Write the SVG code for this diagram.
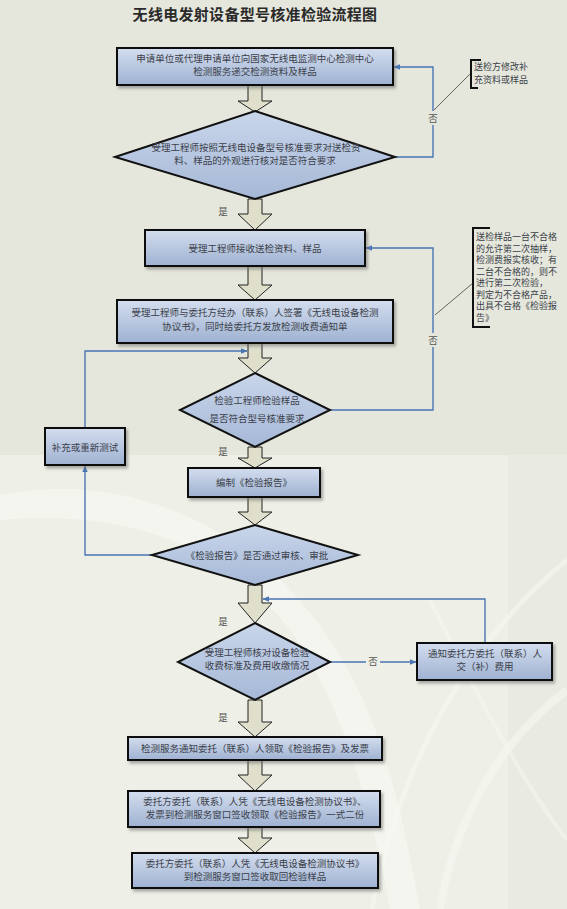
<svg xmlns="http://www.w3.org/2000/svg" width="567" height="909" viewBox="0 0 567 909">
<defs>
<linearGradient id="gBox" x1="0" y1="0" x2="0" y2="1">
<stop offset="0" stop-color="#d3ddee"/>
<stop offset="1" stop-color="#9fb2d2"/>
</linearGradient>
<linearGradient id="gDia" x1="0" y1="0" x2="0" y2="1">
<stop offset="0" stop-color="#c9d6eb"/>
<stop offset="1" stop-color="#a6b8d7"/>
</linearGradient>
<filter id="sh" x="-10%" y="-10%" width="130%" height="140%">
<feDropShadow dx="2" dy="2.5" stdDeviation="1.5" flood-color="#6b6b6b" flood-opacity="0.55"/>
</filter>
<marker id="ah" viewBox="0 0 10 10" refX="9" refY="5" markerWidth="7" markerHeight="7" orient="auto" markerUnits="userSpaceOnUse">
<path d="M0,1 L10,5 L0,9 Z" fill="#4a76b5"/>
</marker>
<style>
.box{fill:url(#gBox);stroke:#111;stroke-width:2;filter:url(#sh)}
.dia{fill:url(#gDia);stroke:#111;stroke-width:2}
.blk{fill:#dfdfcb;stroke:#222;stroke-width:1}
.con-a{fill:none;stroke:#4a76b5;stroke-width:1.4;marker-end:url(#ah)}
.t{font-family:"Noto Sans CJK SC","Noto Sans CJK JP",sans-serif;font-size:9.5px;fill:#3b3f4a;text-anchor:middle}
.lab{font-family:"Noto Sans CJK SC","Noto Sans CJK JP",sans-serif;font-size:9.5px;fill:#555;text-anchor:middle}
.note{font-family:"Noto Sans CJK SC","Noto Sans CJK JP",sans-serif;font-size:9px;fill:#3b3f4a}
.brk{fill:none;stroke:#111;stroke-width:2}
.lead{fill:none;stroke:#555;stroke-width:0.9}
</style>
</defs>

<!-- background -->
<rect x="0" y="0" width="567" height="909" fill="#e6e7dc"/>
<rect x="0" y="455" width="508" height="454" fill="#eeefe6"/>
<rect x="508" y="455" width="59" height="454" fill="#e9eae1"/>
<path d="M0,495 C120,470 250,520 330,640 C380,715 400,800 420,909 L390,909 C370,800 340,700 290,630 C220,540 120,510 0,520 Z" fill="#f5f6f0" opacity="0.8"/>
<path d="M567,560 C470,640 400,760 372,909" fill="none" stroke="#f7f8f2" stroke-width="5" opacity="0.6"/>
<path d="M567,690 C500,740 455,820 440,909" fill="none" stroke="#f7f8f2" stroke-width="8" opacity="0.55"/>
<path d="M430,600 C470,680 520,780 567,840" fill="none" stroke="#f5f6ef" stroke-width="4" opacity="0.6"/>

<!-- title -->
<text x="255" y="20" font-family="Noto Sans CJK SC, Noto Sans CJK JP, sans-serif" font-size="15" font-weight="bold" fill="#2a2a2a" text-anchor="middle" letter-spacing="0.3">无线电发射设备型号核准检验流程图</text>

<!-- connectors -->
<g id="connectors">
<path class="blk" d="M248,85 H262 V101 H272 L255,112 L238,101 H248 Z"/>
<path class="blk" d="M248,199 H262 V214 H272 L255,230 L238,214 H248 Z"/>
<path class="blk" d="M248,266 H262 V285 H272 L255,300 L238,285 H248 Z"/>
<path class="blk" d="M248,343 H262 V358 H272 L255,373 L238,358 H248 Z"/>
<path class="blk" d="M248,447 H262 V458 H272 L255,468 L238,458 H248 Z"/>
<path class="blk" d="M248,497 H262 V512 H272 L255,525 L238,512 H248 Z"/>
<path class="blk" d="M248,585 H262 V603 H272 L255,623 L238,603 H248 Z"/>
<path class="blk" d="M248,700 H262 V722 H272 L255,737 L238,722 H248 Z"/>
<path class="blk" d="M248,760 H262 V775 H272 L255,791 L238,775 H248 Z"/>
<path class="blk" d="M248,827 H262 V838 H272 L255,853 L238,838 H248 Z"/>

<path class="con-a" d="M395,157 H433 V67 H394"/>
<path class="con-a" d="M330,410 H433 V248 H366"/>
<path class="con-a" d="M152,555 H85 V466"/>
<path class="con-a" d="M85,428 V351 H247"/>
<path class="con-a" d="M330,662 H416"/>
<path class="con-a" d="M485,643 V599 H263"/>

<rect x="427" y="111" width="12" height="14" fill="#e6e7dc"/>
<text class="lab" x="433" y="122">否</text>
<rect x="427" y="333" width="12" height="14" fill="#e6e7dc"/>
<text class="lab" x="433" y="344">否</text>
<rect x="366" y="655" width="14" height="13" fill="#eeefe6"/>
<text class="lab" x="373" y="665">否</text>
<text class="lab" x="223" y="215">是</text>
<text class="lab" x="223" y="455">是</text>
<text class="lab" x="223" y="625">是</text>
<text class="lab" x="223" y="721">是</text>

<path class="lead" d="M434,110 L470,74"/>
<path class="lead" d="M435,315 L473,283"/>
</g>

<!-- nodes -->
<g id="n1">
<rect class="box" x="117" y="48" width="276" height="37"/>
<text class="t" x="255" y="62" font-size="10">申请单位或代理申请单位向国家无线电监测中心检测中心</text>
<text class="t" x="255" y="75">检测服务递交检测资料及样品</text>
</g>
<g id="d1">
<path class="dia" d="M255,111 L395,157 L255,199 L115,157 Z"/>
<text class="t" x="256" y="151" font-size="10.3">受理工程师按照无线电设备型号核准要求对送检资</text>
<text class="t" x="255" y="164" font-size="10.3">料、样品的外观进行核对是否符合要求</text>
</g>
<g id="note1">
<path class="brk" d="M481,60 H471 V88 H478"/>
<text class="note" x="474" y="70" font-size="9.5">送检方修改补</text>
<text class="note" x="474" y="83" font-size="9.5">充资料或样品</text>
</g>
<g id="n2">
<rect class="box" x="145" y="230" width="220" height="36"/>
<text class="t" x="255" y="252" font-size="10">受理工程师接收送检资料、样品</text>
</g>
<g id="note2">
<path class="brk" d="M490,228 H473 V327 H490"/>
<text class="note" x="476" y="240">送检样品一台不合格</text>
<text class="note" x="476" y="251.5">的允许第二次抽样，</text>
<text class="note" x="476" y="263">检测费报实核收；有</text>
<text class="note" x="476" y="274.5">二台不合格的，则不</text>
<text class="note" x="476" y="286">进行第二次检验，</text>
<text class="note" x="476" y="297.5">判定为不合格产品，</text>
<text class="note" x="476" y="309">出具不合格《检验报</text>
<text class="note" x="476" y="320.5">告》</text>
</g>
<g id="n3">
<rect class="box" x="117" y="300" width="276" height="43"/>
<text class="t" x="255" y="316" font-size="10">受理工程师与委托方经办（联系）人签署《无线电设备检测</text>
<text class="t" x="255" y="330" font-size="10">协议书》，同时给委托方发放检测收费通知单</text>
</g>
<g id="d2">
<path class="dia" d="M255,373 L330,410 L255,447 L180,410 Z"/>
<text class="t" x="257" y="404" font-size="10">检验工程师检验样品</text>
<text class="t" x="257" y="422" font-size="10">是否符合型号核准要求</text>
</g>
<g id="n4">
<rect class="box" x="45" y="428" width="80" height="37"/>
<text class="t" x="85" y="451" font-size="10.5">补充或重新测试</text>
</g>
<g id="n5">
<rect class="box" x="188" y="468" width="132" height="29"/>
<text class="t" x="254" y="486" font-size="10">编制《检验报告》</text>
</g>
<g id="d3">
<path class="dia" d="M255,525 L358,555 L255,585 L152,555 Z"/>
<text class="t" x="257" y="559" font-size="10">《检验报告》是否通过审核、审批</text>
</g>
<g id="d4">
<path class="dia" d="M255,623 L330,662 L255,700 L178,662 Z"/>
<text class="t" x="257" y="656" font-size="10.3">受理工程师核对设备检验</text>
<text class="t" x="257" y="669" font-size="10">收费标准及费用收缴情况</text>
</g>
<g id="n6">
<rect class="box" x="417" y="643" width="135" height="37"/>
<text class="t" x="485" y="657" font-size="10">通知委托方委托（联系）人</text>
<text class="t" x="485" y="670" font-size="10">交（补）费用</text>
</g>
<g id="n7">
<rect class="box" x="128" y="737" width="254" height="23"/>
<text class="t" x="255" y="752" font-size="10">检测服务通知委托（联系）人领取《检验报告》及发票</text>
</g>
<g id="n8">
<rect class="box" x="128" y="791" width="252" height="36"/>
<text class="t" x="255" y="805">委托方委托（联系）人凭《无线电设备检测协议书》、</text>
<text class="t" x="255" y="818">发票到检测服务窗口签收领取《检验报告》一式二份</text>
</g>
<g id="n9">
<rect class="box" x="132" y="853" width="246" height="35"/>
<text class="t" x="255" y="867">委托方委托（联系）人凭《无线电设备检测协议书》</text>
<text class="t" x="255" y="880">到检测服务窗口签收取回检验样品</text>
</g>
</svg>
